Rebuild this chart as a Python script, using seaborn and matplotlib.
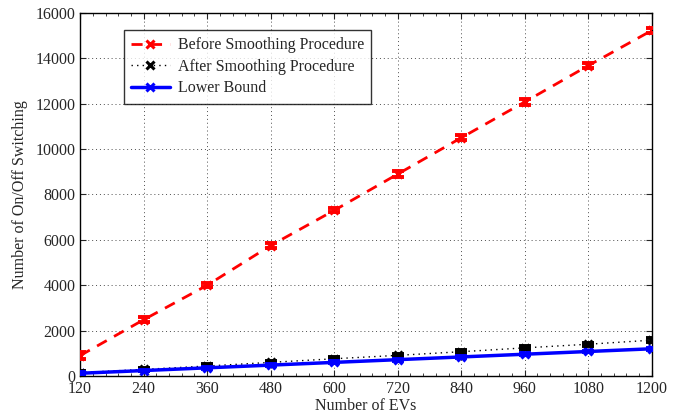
import numpy as np
import pandas as pd
import seaborn as sns
import matplotlib
matplotlib.use("Agg")
import matplotlib.pyplot as plt
from matplotlib.ticker import MultipleLocator

evs = [120, 240, 360, 480, 600, 720, 840, 960, 1080, 1200]
before = [900, 2480, 4000, 5750, 7300, 8900, 10500, 12080, 13680, 15230]
before_err = [140, 110, 90, 90, 90, 120, 110, 130, 120, 110]
after = [150, 290, 440, 600, 760, 910, 1070, 1240, 1400, 1580]
after_err = [60, 70, 70, 70, 70, 70, 70, 70, 70, 80]
lower = [120, 240, 360, 480, 600, 720, 840, 960, 1080, 1200]
lower_err = [40, 40, 40, 40, 40, 40, 40, 40, 40, 40]

labels = ["Before Smoothing Procedure", "After Smoothing Procedure", "Lower Bound"]

sns.set_style("ticks")
plt.rcParams['font.family'] = ['Liberation Serif', 'DejaVu Serif']
plt.rcParams['mathtext.fontset'] = 'stix'

fig = plt.figure(figsize=(6.79, 4.13), dpi=100)
ax = fig.add_axes([0.118, 0.0896, 0.842, 0.879])

df = pd.DataFrame({
    "EVs": evs * 3,
    "value": before + after + lower,
    "series": [labels[0]] * 10 + [labels[1]] * 10 + [labels[2]] * 10,
})

styles = [
    dict(color="red", ls=(0, (4, 3)), lw=2.0),
    dict(color="black", ls=(0, (1, 3)), lw=1.0),
    dict(color="blue", ls="-", lw=2.5),
]
errs = [before_err, after_err, lower_err]
vals = [before, after, lower]

for lab, st, v, e in zip(labels, styles, vals, errs):
    sub = df[df.series == lab]
    sns.lineplot(data=sub, x="EVs", y="value", ax=ax, color=st["color"],
                 linestyle=st["ls"], linewidth=st["lw"], marker="x",
                 markersize=6, markeredgewidth=2.2, markeredgecolor=st["color"],
                 label=lab, errorbar=None)
    ax.errorbar(evs, v, yerr=e, fmt="none", ecolor=st["color"],
                elinewidth=2.8, capsize=4, capthick=2.8, zorder=3)

ax.set_xlim(120, 1200)
ax.set_ylim(0, 16000)
ax.set_xticks(evs)
ax.set_yticks(np.arange(0, 16001, 2000))
ax.xaxis.set_minor_locator(MultipleLocator(24))
ax.tick_params(which="both", direction="in", top=True, right=True, labelsize=11.5)
ax.tick_params(which="major", length=4, width=0.8)
ax.tick_params(which="minor", length=2.5, width=0.6)
ax.grid(True, which="major", ls=(0, (1, 3)), color="0.3", lw=0.7)
for s in ax.spines.values():
    s.set_linewidth(1.0)
    s.set_color("black")

ax.set_xlabel("Number of EVs", fontsize=11.5, labelpad=1)
ax.set_ylabel("Number of On/Off Switching", fontsize=11.5, labelpad=5)

leg = ax.legend(loc="upper left", bbox_to_anchor=(0.077, 0.953), fontsize=11.5,
                frameon=True, fancybox=False, edgecolor="black",
                handlelength=2.4, handletextpad=0.5, borderpad=0.45,
                labelspacing=0.35, borderaxespad=0)
leg.get_frame().set_linewidth(1.0)

fig.savefig("out.png", dpi=100)
